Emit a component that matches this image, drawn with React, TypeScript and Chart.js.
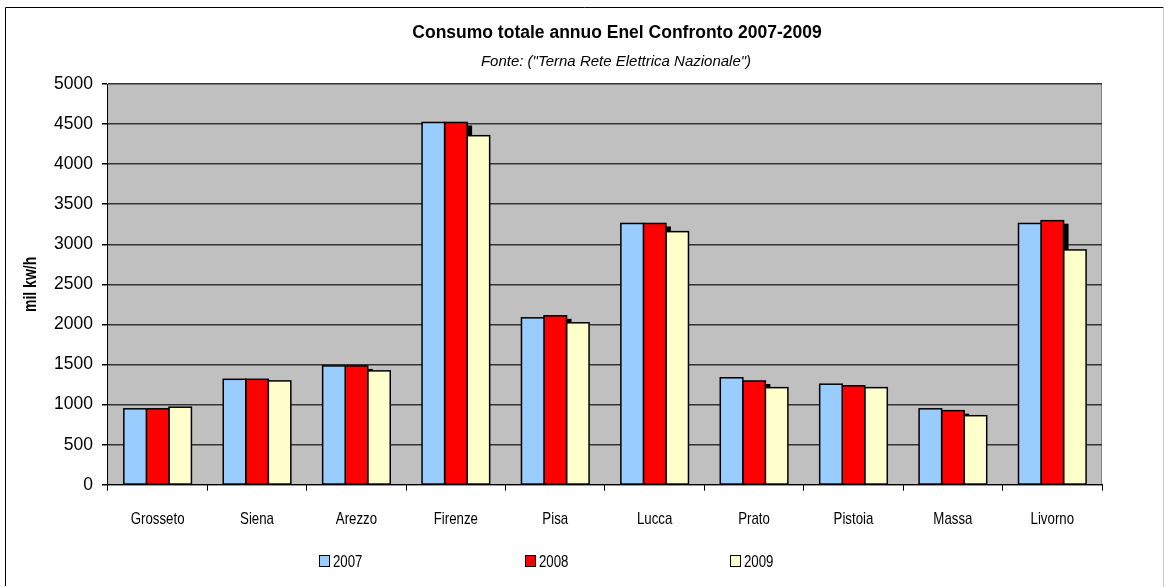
import React, { useEffect, useRef } from 'react';
import { Chart, registerables } from 'chart.js';

Chart.register(...registerables);

const categories = ['Grosseto', 'Siena', 'Arezzo', 'Firenze', 'Pisa', 'Lucca', 'Prato', 'Pistoia', 'Massa', 'Livorno'];
const values2007 = [948, 1316, 1483, 4520, 2083, 3260, 1335, 1255, 948, 3260];
const values2008 = [948, 1316, 1483, 4520, 2108, 3260, 1295, 1235, 925, 3295];
const values2009 = [968, 1296, 1421, 4355, 2021, 3158, 1212, 1212, 862, 2930];
const seriesLabels = ['2007', '2008', '2009'];
const seriesColors = ['#99CCFF', '#FF0000', '#FFFFCC'];
const yMin = 0;
const yMax = 5000;
const yStep = 500;

const TITLE = 'Consumo totale annuo Enel Confronto 2007-2009';
const SUBTITLE = 'Fonte: ("Terna Rete Elettrica Nazionale")';
const Y_TITLE = 'mil kw/h';

const SANS = "'Liberation Sans', Arial, sans-serif";
const SQUEEZE = 0.78;

function drawSqueezed(ctx: CanvasRenderingContext2D, text: string, x: number, y: number, align: CanvasTextAlign) {
  ctx.save();
  ctx.translate(x, y);
  ctx.scale(SQUEEZE, 1);
  ctx.textAlign = align;
  ctx.fillText(text, 0, 0);
  ctx.restore();
}

const plotBackground = {
  id: 'plotBackground',
  beforeDraw(chart: any) {
    const { ctx, chartArea } = chart;
    ctx.save();
    ctx.fillStyle = '#FFFFFF';
    ctx.fillRect(0, 0, chart.width, chart.height);
    ctx.fillStyle = '#C0C0C0';
    ctx.fillRect(chartArea.left, chartArea.top, chartArea.right - chartArea.left, chartArea.bottom - chartArea.top);
    ctx.strokeStyle = '#808080';
    ctx.lineWidth = 1;
    ctx.beginPath();
    ctx.moveTo(Math.round(chartArea.right) - 0.5, chartArea.top);
    ctx.lineTo(Math.round(chartArea.right) - 0.5, chartArea.bottom);
    ctx.stroke();
    ctx.restore();
  },
};

const barShadow = {
  id: 'barShadow',
  beforeDatasetsDraw(chart: any) {
    const { ctx, chartArea } = chart;
    const meta = chart.getDatasetMeta(1);
    ctx.save();
    ctx.beginPath();
    ctx.rect(chartArea.left, chartArea.top, chartArea.right - chartArea.left, chartArea.bottom - chartArea.top);
    ctx.clip();
    ctx.fillStyle = '#000000';
    meta.data.forEach((el: any) => {
      const { x, y, base, width } = el.getProps(['x', 'y', 'base', 'width'], true);
      ctx.fillRect(x - width / 2 + 5, y + 3, width, base - y - 3);
    });
    ctx.restore();
  },
};

const barOutline = {
  id: 'barOutline',
  afterDatasetDraw(chart: any, args: any) {
    const { ctx } = chart;
    const meta = chart.getDatasetMeta(args.index);
    ctx.save();
    ctx.strokeStyle = '#000000';
    ctx.lineWidth = 1.5;
    meta.data.forEach((el: any) => {
      const { x, y, base, width } = el.getProps(['x', 'y', 'base', 'width'], true);
      ctx.strokeRect(x - width / 2, y, width, base - y);
    });
    ctx.restore();
  },
};

const decorations = {
  id: 'decorations',
  afterDraw(chart: any) {
    const { ctx, chartArea } = chart;
    ctx.save();
    // outer frame
    ctx.lineWidth = 1;
    ctx.strokeStyle = '#000000';
    ctx.beginPath();
    ctx.moveTo(5.5, 586);
    ctx.lineTo(5.5, 7.5);
    ctx.lineTo(1163.5, 7.5);
    ctx.stroke();
    ctx.strokeStyle = '#C8C8C8';
    ctx.beginPath();
    ctx.moveTo(1163.5, 7.5);
    ctx.lineTo(1163.5, 587);
    ctx.stroke();

    // title & subtitle
    ctx.fillStyle = '#000000';
    ctx.textAlign = 'center';
    ctx.textBaseline = 'alphabetic';
    ctx.font = `bold 17.5px ${SANS}`;
    ctx.fillText(TITLE, 617, 38);
    ctx.font = `italic 15px ${SANS}`;
    ctx.fillText(SUBTITLE, 616, 66);

    // x category labels (condensed)
    const xScale = chart.scales.x;
    ctx.font = `17px ${SANS}`;
    ctx.textBaseline = 'alphabetic';
    categories.forEach((label, i) => {
      drawSqueezed(ctx, label, xScale.getPixelForTick(i), chartArea.bottom + 39, 'center');
    });

    // y axis title
    ctx.save();
    ctx.translate(31, (chartArea.top + chartArea.bottom) / 2);
    ctx.rotate(-Math.PI / 2);
    ctx.textBaseline = 'middle';
    ctx.font = `bold 18px ${SANS}`;
    drawSqueezed(ctx, Y_TITLE, 0, 0, 'center');
    ctx.restore();

    // legend
    const legendX = [319, 525, 730];
    ctx.textBaseline = 'alphabetic';
    ctx.font = `17px ${SANS}`;
    seriesLabels.forEach((label, i) => {
      const bx = legendX[i];
      ctx.fillStyle = seriesColors[i];
      ctx.fillRect(bx, 555, 10, 11);
      ctx.strokeStyle = '#000000';
      ctx.lineWidth = 1;
      ctx.strokeRect(bx + 0.5, 555.5, 10, 11);
      ctx.fillStyle = '#000000';
      drawSqueezed(ctx, label, bx + 14, 567, 'left');
    });
    ctx.restore();
  },
};

export default function App() {
  const canvasRef = useRef<HTMLCanvasElement>(null);

  useEffect(() => {
    const canvas = canvasRef.current;
    if (!canvas) return;
    const seriesValues = [values2007, values2008, values2009];
    const chart = new Chart(canvas, {
      type: 'bar',
      data: {
        labels: categories,
        datasets: seriesLabels.map((label, i) => ({
          label,
          data: seriesValues[i],
          backgroundColor: seriesColors[i],
          borderWidth: 0,
          barPercentage: 1,
          categoryPercentage: 0.68,
        })),
      },
      options: {
        responsive: false,
        animation: false,
        events: [],
        layout: { padding: { top: 84, left: 45, right: 63, bottom: 43 } },
        plugins: {
          legend: { display: false },
          title: { display: false },
          tooltip: { enabled: false },
        },
        scales: {
          x: {
            grid: {
              offset: true,
              drawOnChartArea: false,
              tickLength: 6,
              tickColor: '#000000',
              color: '#000000',
            },
            border: { color: '#000000', width: 1 },
            ticks: {
              color: 'rgba(0,0,0,0)',
              font: { family: SANS, size: 16 },
              padding: 17,
              maxRotation: 0,
              autoSkip: false,
            },
          },
          y: {
            min: yMin,
            max: yMax,
            ticks: {
              stepSize: yStep,
              color: '#000000',
              font: { family: SANS, size: 17.5 },
              padding: 9,
              callback: (v: any) => String(v),
            },
            grid: {
              color: '#333333',
              lineWidth: 1.5,
              tickLength: 6,
              tickColor: '#000000',
            },
            border: { color: '#000000', width: 1 },
          },
        },
      },
      plugins: [plotBackground, barShadow, barOutline, decorations],
    });
    return () => chart.destroy();
  }, []);

  return (
    <div style={{ position: 'fixed', left: 0, top: 0, width: 1165, height: 587, background: '#FFFFFF' }}>
      <canvas ref={canvasRef} width={1165} height={587} style={{ display: 'block' }} />
    </div>
  );
}
